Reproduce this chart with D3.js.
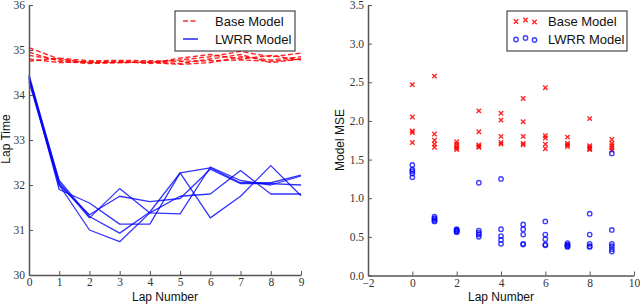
<!DOCTYPE html>
<html>
<head>
<meta charset="utf-8">
<script src="https://cdn.jsdelivr.net/npm/d3@7"></script>
<style>
  body { margin: 0; background: #fff; }
  svg { display: block; }
  .tick text { font-family: "Liberation Serif", serif; font-size: 11.5px; fill: #333; }
  .lbl { font-family: "Liberation Sans", Arial, sans-serif; font-size: 12px; fill: #111; }
  .leg { font-family: "Liberation Sans", Arial, sans-serif; font-size: 13px; fill: #111; }
</style>
</head>
<body>
<svg width="640" height="306"></svg>
<script>
// left panel: lap time per lap, 5 runs each
const laps = [0, 1, 2, 3, 4, 5, 6, 7, 8, 9];
const baseRuns = [
  [35.05, 34.80, 34.72, 34.72, 34.73, 34.78, 34.85, 34.97, 34.85, 34.93],
  [34.95, 34.75, 34.70, 34.72, 34.74, 34.70, 34.80, 34.90, 34.72, 34.80],
  [34.88, 34.78, 34.72, 34.75, 34.70, 34.82, 34.90, 34.80, 34.88, 34.78],
  [34.80, 34.72, 34.74, 34.73, 34.72, 34.68, 34.72, 34.85, 34.78, 34.85],
  [34.75, 34.82, 34.76, 34.77, 34.76, 34.75, 34.76, 34.78, 34.75, 34.80]
];
const lwrrRuns = [
  [34.45, 32.05, 31.27, 31.92, 31.38, 31.36, 32.40, 32.10, 32.00, 32.20],
  [34.40, 31.90, 31.60, 31.13, 31.13, 32.27, 31.27, 31.75, 32.43, 31.76],
  [34.35, 32.00, 31.00, 30.74, 31.38, 31.75, 31.80, 32.32, 31.80, 31.80],
  [34.40, 32.10, 31.30, 30.93, 31.40, 32.27, 32.38, 32.05, 32.05, 32.22],
  [34.30, 32.00, 31.34, 31.75, 31.63, 31.70, 32.35, 32.03, 32.03, 32.00]
];

// right panel: model MSE per lap
const baseMse = [
  [2.47, 2.05, 1.87, 1.85, 1.72],
  [2.58, 1.83, 1.75, 1.70, 1.66],
  [1.73, 1.70, 1.67, 1.65, 1.63],
  [2.13, 1.86, 1.69, 1.67, 1.66],
  [2.10, 2.01, 1.80, 1.72, 1.70],
  [2.29, 1.99, 1.80, 1.71, 1.69],
  [2.43, 1.81, 1.78, 1.70, 1.64],
  [2.98, 1.79, 1.71, 1.69, 1.67],
  [2.03, 1.68, 1.66, 1.64, 1.63],
  [1.76, 1.71, 1.68, 1.65, 1.62]
];
const lwrrMse = [
  [1.43, 1.37, 1.35, 1.32, 1.27],
  [0.76, 0.74, 0.73, 0.71, 0.70],
  [0.60, 0.59, 0.58, 0.57, 0.56],
  [1.20, 0.58, 0.55, 0.53, 0.50],
  [1.25, 0.60, 0.51, 0.46, 0.41],
  [0.66, 0.60, 0.53, 0.41, 0.40],
  [0.70, 0.53, 0.47, 0.40, 0.39],
  [0.42, 0.40, 0.39, 0.38, 0.37],
  [0.80, 0.53, 0.41, 0.38, 0.37],
  [1.58, 0.59, 0.41, 0.38, 0.34, 0.31]
];

const leftYTicks = [30, 31, 32, 33, 34, 35, 36];
const rightYTicks = [0, 0.5, 1, 1.5, 2, 2.5, 3, 3.5];
const rightXTicks = [-2, 0, 2, 4, 6, 8, 10];
const seriesNames = ["Base Model", "LWRR Model"];

const svg = d3.select("svg");
const axisColor = "#555";
const dash = "5,2.5";

function styleAxis(g) {
  g.select(".domain").attr("stroke", axisColor).attr("stroke-width", 1.5);
  g.selectAll(".tick line").attr("stroke", axisColor);
}

const minus = d3.format("d");
const fmtInt = d => minus(d).replace("-", "\u2212");

// ---- left panel ----
const x1 = d3.scaleLinear().domain([0, 9]).range([29, 301]);
const y1 = d3.scaleLinear().domain([30, 36]).range([275, 5]);

const line = d3.line()
    .x((d, i) => x1(laps[i]))
    .y(d => y1(d));

svg.append("g").selectAll("path")
  .data(baseRuns)
  .join("path")
    .attr("fill", "none")
    .attr("stroke", "#ff0000")
    .attr("stroke-opacity", 0.85)
    .attr("stroke-width", 1.4)
    .attr("stroke-dasharray", dash)
    .attr("d", line);

svg.append("g").selectAll("path")
  .data(lwrrRuns)
  .join("path")
    .attr("fill", "none")
    .attr("stroke", "#0000ff")
    .attr("stroke-opacity", 0.8)
    .attr("stroke-width", 1.3)
    .attr("stroke-linejoin", "round")
    .attr("d", line);

svg.append("g")
    .attr("transform", "translate(0,275)")
    .call(d3.axisBottom(x1).tickValues(laps).tickFormat(fmtInt).tickSizeInner(-4).tickSizeOuter(0).tickPadding(3))
    .call(styleAxis);

svg.append("g")
    .attr("transform", "translate(29,0)")
    .call(d3.axisLeft(y1).tickValues(leftYTicks).tickFormat(fmtInt).tickSizeInner(-4).tickSizeOuter(0).tickPadding(4))
    .call(styleAxis);

svg.append("text").attr("class", "lbl")
    .attr("x", 165).attr("y", 301).attr("text-anchor", "middle")
    .text("Lap Number");
svg.append("text").attr("class", "lbl")
    .attr("transform", "translate(6,139) rotate(-90)")
    .attr("text-anchor", "middle")
    .attr("dy", "0.35em")
    .text("Lap Time");

// left legend
const lg1 = svg.append("g");
lg1.append("rect")
    .attr("x", 175).attr("y", 11).attr("width", 120).attr("height", 40)
    .attr("fill", "#fff").attr("stroke", "#222").attr("stroke-width", 1);
lg1.append("line")
    .attr("x1", 183).attr("x2", 198).attr("y1", 21).attr("y2", 21)
    .attr("stroke", "#ff0000").attr("stroke-opacity", 0.85).attr("stroke-width", 1.4).attr("stroke-dasharray", dash);
lg1.append("line")
    .attr("x1", 183).attr("x2", 198).attr("y1", 39).attr("y2", 39)
    .attr("stroke", "#0000ff").attr("stroke-opacity", 0.8).attr("stroke-width", 1.6);
lg1.selectAll("text")
  .data(seriesNames)
  .join("text").attr("class", "leg")
    .attr("x", 215).attr("y", (d, i) => 21 + i * 18)
    .attr("dy", "0.35em")
    .text(d => d);

// ---- right panel ----
const x2 = d3.scaleLinear().domain([-2, 10]).range([368, 634]);
const y2 = d3.scaleLinear().domain([0, 3.5]).range([275.5, 5]);

const flat = arr => arr.flatMap((vals, i) => vals.map(v => ({ lap: laps[i], v: v })));

const cross = (g, cx, cy) => {
  g.append("path")
    .attr("d", `M${cx - 2.2},${cy - 2.2}L${cx + 2.2},${cy + 2.2}M${cx - 2.2},${cy + 2.2}L${cx + 2.2},${cy - 2.2}`)
    .attr("stroke", "#ff0000").attr("stroke-opacity", 0.85).attr("stroke-width", 1.4).attr("fill", "none");
};

const redG = svg.append("g");
flat(baseMse).forEach(d => cross(redG, x2(d.lap), y2(d.v)));

svg.append("g").selectAll("circle")
  .data(flat(lwrrMse))
  .join("circle")
    .attr("cx", d => x2(d.lap))
    .attr("cy", d => y2(d.v))
    .attr("r", 2.2)
    .attr("fill", "none")
    .attr("stroke", "#0000ff")
    .attr("stroke-opacity", 0.75)
    .attr("stroke-width", 1.4);

svg.append("g")
    .attr("transform", "translate(0,275.5)")
    .call(d3.axisBottom(x2).tickValues(rightXTicks).tickFormat(fmtInt).tickSizeInner(-4).tickSizeOuter(0).tickPadding(3))
    .call(styleAxis);

svg.append("g")
    .attr("transform", "translate(368,0)")
    .call(d3.axisLeft(y2).tickValues(rightYTicks).tickFormat(d3.format(".1f")).tickSizeInner(-4).tickSizeOuter(0).tickPadding(4))
    .call(styleAxis);

svg.append("text").attr("class", "lbl")
    .attr("x", 501).attr("y", 301).attr("text-anchor", "middle")
    .text("Lap Number");
svg.append("text").attr("class", "lbl")
    .attr("transform", "translate(340,140) rotate(-90)")
    .attr("text-anchor", "middle")
    .attr("dy", "0.35em")
    .text("Model MSE");

// right legend
const lg2 = svg.append("g");
lg2.append("rect")
    .attr("x", 507).attr("y", 11).attr("width", 120).attr("height", 40)
    .attr("fill", "#fff").attr("stroke", "#222").attr("stroke-width", 1);
const lgDx = [516, 525.5, 534.5];
const lgDy = [1.5, 0, 2];
lgDx.forEach((lx, k) => cross(lg2, lx, 21 + lgDy[k] - 1));
lg2.selectAll("circle")
  .data(lgDx)
  .join("circle")
    .attr("cx", d => d)
    .attr("cy", (d, k) => 39 + lgDy[k] - 1)
    .attr("r", 2.2)
    .attr("fill", "none")
    .attr("stroke", "#0000ff").attr("stroke-opacity", 0.75).attr("stroke-width", 1.4);
lg2.selectAll("text")
  .data(seriesNames)
  .join("text").attr("class", "leg")
    .attr("x", 548).attr("y", (d, i) => 21 + i * 18)
    .attr("dy", "0.35em")
    .text(d => d);
</script>
</body>
</html>
